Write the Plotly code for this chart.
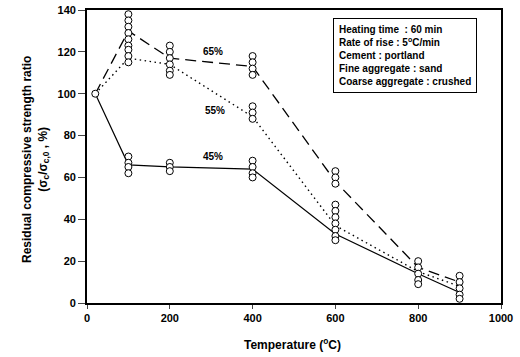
import plotly.graph_objects as go

# Mean curves
temps = [20, 100, 200, 400, 600, 800, 900]
mean_65 = [100, 130, 117, 113, 58, 17, 10]
mean_55 = [100, 117, 114, 89, 37, 15, 8]
mean_45 = [100, 66, 65, 64, 33, 14, 5]

# Individual test results (scatter)
pts_x = ([20] + [100]*9 + [100]*4 + [200]*6 + [200]*3 + [400]*4 + [400]*3 + [400]*4
         + [600]*3 + [600]*7 + [800]*5 + [900]*5)
pts_y = ([100]
         + [138, 135, 132, 129, 126, 123, 121, 118, 115]
         + [70, 67, 65, 62]
         + [123, 120, 117, 114, 111, 109]
         + [67, 65, 63]
         + [118, 115, 112, 109]
         + [94, 91, 88]
         + [68, 65, 62, 60]
         + [63, 60, 57]
         + [47, 44, 41, 38, 35, 32, 30]
         + [20, 17, 14, 11, 9]
         + [13, 10, 7, 4, 2])

series_labels = ["65%", "55%", "45%"]
label_x = [305, 308, 305]
label_y = [120, 92, 70]

info_lines = ["Heating time  : 60 min",
              "Rate of rise : 5<sup>o</sup>C/min",
              "Cement : portland",
              "Fine aggregate : sand",
              "Coarse aggregate : crushed"]

x_ticks = [0, 200, 400, 600, 800, 1000]
y_ticks = [0, 20, 40, 60, 80, 100, 120, 140]

FONT = "Arial, 'Liberation Sans', sans-serif"

PL, PR, PT, PB = 87, 501, 10, 303
PW, PH = PR - PL, PB - PT


def px(xp):
    return (xp - PL) / PW


def py(yp):
    return (PB - yp) / PH


fig = go.Figure()
fig.add_trace(go.Scatter(x=temps, y=mean_65, mode="lines",
                         line=dict(color="black", width=1.3, dash="11px,6px")))
fig.add_trace(go.Scatter(x=temps, y=mean_55, mode="lines",
                         line=dict(color="black", width=1.4, dash="1.5px,3.5px")))
fig.add_trace(go.Scatter(x=temps, y=mean_45, mode="lines",
                         line=dict(color="black", width=1.2)))
fig.add_trace(go.Scatter(x=pts_x, y=pts_y, mode="markers",
                         marker=dict(symbol="circle", size=7, color="white",
                                     line=dict(color="black", width=1))))

for t, lx, ly in zip(series_labels, label_x, label_y):
    fig.add_annotation(x=lx, y=ly, text="<b>" + t + "</b>", showarrow=False,
                       xanchor="center", yanchor="middle",
                       font=dict(family=FONT, size=10, color="black"))

fig.add_annotation(x=px(333), y=py(18), xref="paper", yref="paper",
                   xanchor="left", yanchor="top", align="left",
                   text="<br>".join(info_lines), showarrow=False,
                   bordercolor="black", borderwidth=1, borderpad=5,
                   bgcolor="white",
                   font=dict(family=FONT, size=10, color="black", weight="bold"))

# Axis titles
fig.add_annotation(x=px(292), y=py(344), xref="paper", yref="paper",
                   xanchor="center", yanchor="middle",
                   showarrow=False, text="Temperature (<sup>o</sup>C)",
                   font=dict(family=FONT, size=12, color="black", weight="bold"))
fig.add_annotation(x=px(35), y=py(160), xref="paper", yref="paper",
                   xanchor="center", yanchor="middle",
                   showarrow=False, textangle=-90,
                   text="Residual compressive strength ratio<br>(σ<sub>c</sub>/σ<sub>c,0</sub> , %)",
                   font=dict(family=FONT, size=12, color="black", weight="bold"))

fig.update_layout(
    width=520, height=357,
    margin=dict(l=PL, r=520 - PR, t=PT, b=357 - PB, autoexpand=False),
    paper_bgcolor="white", plot_bgcolor="white",
    showlegend=False,
    font=dict(family=FONT, size=11, color="black", weight="bold"),
)
fig.update_xaxes(range=[0, 1000], tickvals=x_ticks, ticks="outside", ticklen=4,
                 showline=True, linecolor="black", linewidth=1.8, mirror=True,
                 showgrid=False, zeroline=False, automargin=False,
                 tickfont=dict(size=11, weight="bold"))
fig.update_yaxes(range=[0, 140], tickvals=y_ticks, ticks="outside", ticklen=7,
                 showline=True, linecolor="black", linewidth=1.8, mirror=True,
                 showgrid=False, zeroline=False, automargin=False,
                 tickfont=dict(size=11, weight="bold"))

fig.write_html("out.html", config={"displayModeBar": False},
               post_script="document.body.style.margin='0';")
